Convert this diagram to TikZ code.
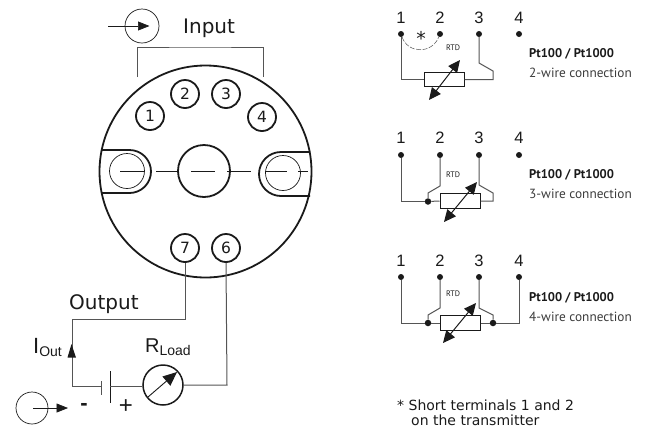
\documentclass[tikz,border=0pt]{standalone}
\usepackage{fontspec}
\setmainfont{Liberation Sans}
\newfontfamily\tah{DejaVu Sans}
\newfontfamily\din{PT Sans}
\usetikzlibrary{arrows.meta,calc}
\definecolor{ink}{HTML}{1A1A1A}
\definecolor{wiregray}{HTML}{555555}
\tikzset{
  x=1pt,y=-1pt,
  thick line/.style={draw=ink,line width=1.8pt},
  wire/.style={draw=wiregray,line width=1pt},
  thin line/.style={draw=ink,line width=0.7pt},
  termc/.style={circle,draw=ink,line width=1.8pt,minimum size=28pt,inner sep=0pt,font=\tah\fontsize{15.5}{15.5}\selectfont,text=ink},
  dotn/.style={circle,fill=ink,minimum size=6pt,inner sep=0pt},
  jdot/.style={circle,fill=ink,minimum size=6.5pt,inner sep=0pt},
  num/.style={font=\fontsize{16.5}{16.5}\selectfont,text=ink,inner sep=0pt},
  rtd/.style={font=\din\fontsize{8}{8}\selectfont,text=ink,inner sep=0pt},
  ptb/.style={font=\din\bfseries\fontsize{12.6}{13}\selectfont,text=ink,anchor=west,inner sep=0pt},
  ptn/.style={font=\din\fontsize{13.3}{13}\selectfont,text=ink!85,anchor=west,inner sep=0pt},
  res/.style={draw=ink,line width=1pt,fill=white,minimum width=40pt,minimum height=14.5pt,inner sep=0pt},
  dbl/.style={draw=ink,line width=1pt,{Triangle[length=12pt,width=11pt]}-{Triangle[length=12pt,width=11pt]},shorten >=0pt,shorten <=0pt},
  big/.style={font=\tah\fontsize{20}{20}\selectfont,text=ink,inner sep=0pt},
  sym/.style={circle,draw=ink,line width=0.7pt,inner sep=0pt},
  arr/.style={draw=ink,line width=0.7pt,-{Triangle[length=11.5pt,width=9pt]}},
}
\begin{document}
\begin{tikzpicture}
\useasboundingbox (0,0) rectangle (645,432);
% body
\node[circle,thick line,minimum size=212pt,inner sep=0pt] (body) at (205.5,171.5) {};
\node[circle,thick line,minimum size=52pt,inner sep=0pt] (hub) at (204,171) {};
% slots
\draw[thick line] (101,150) -- (129.5,150) arc[start angle=-90,end angle=90,radius=21.5] -- (101,193);
\draw[thick line] (310,152) -- (281,152) arc[start angle=-90,end angle=-270,radius=22] -- (310,196);
\node[circle,thin line,minimum size=35pt,inner sep=0pt] (sl) at (127,171) {};
\node[circle,thin line,minimum size=35pt,inner sep=0pt] (sr) at (283,173) {};
\draw[thin line] (120,171)--(144,171) (156,171)--(178,171) (191,171)--(215,171) (227,171)--(251,171) (265,171)--(287,171) (298,171)--(308,171);
% terminals
\node[termc] (t1) at (150,116) {1};
\node[termc] (t2) at (185,94) {2};
\node[termc] (t3) at (226,94) {3};
\node[termc] (t4) at (262,117) {4};
\node[termc] (t7) at (185,248) {7};
\node[termc] (t6) at (226,248) {6};
% input
\coordinate (ia) at (137,77); \coordinate (ib) at (263,77);
\draw[wire,line width=0.8pt] (ia) |- (200,47) -| (ib);
\node[big,anchor=base west] (inp) at (183,33) {Input};
\node[sym,minimum size=34pt] (inc) at (142,26) {};
\coordinate (ina) at (108,26); \coordinate (inb) at (149.5,26);
\draw[arr] (ina) -- (inb);
% output
\node[big,anchor=base west] (outl) at (69,309) {Output};
\node[sym,line width=1.5pt,minimum size=40pt] (meter) at (163,385) {};
\coordinate (p1) at (101,386); \coordinate (p2) at (110,386);
\draw[wire] (t7.south) -- (185,319) -- (72,319) -- (72,386) -- (p1);
\draw[wire] (p1 |- 0,381) -- (p1 |- 0,395);
\draw[draw=ink,line width=1pt] (p2 |- 0,371) -- (p2 |- 0,403);
\draw[wire] (p2) -- (meter.west |- p2);
\draw[wire] (meter.east) -- (227,385) -- (t6.south);
\fill[ink] (71.5,344) -- (76,357.5) -- (67.5,357.5) -- cycle;
\node[inner sep=0pt,anchor=base west,font=\fontsize{22}{22}\selectfont,text=ink] (iout) at (33,353) {I\raisebox{-3pt}{\fontsize{14}{14}\selectfont Out}};
\node[inner sep=0pt,anchor=base west,font=\fontsize{20}{20}\selectfont,text=ink] (rload) at (145,352) {R\raisebox{-3pt}{\fontsize{14}{14}\selectfont Load}};
\coordinate (ma) at (148,397); \coordinate (mb) at (177,372);
\draw[draw=ink,line width=0.9pt,-{Triangle[length=14pt,width=12pt]}] (ma) -- (mb);
\node[inner sep=0pt,font=\bfseries\fontsize{22}{22}\selectfont,text=ink] (minus) at (84,407) {-};
\node[inner sep=0pt,font=\fontsize{24}{24}\selectfont,text=ink] (plus) at (126,407) {+};
\node[sym,minimum size=32pt] (outc) at (32,408) {};
\coordinate (oa) at (33,408); \coordinate (ob) at (68,408);
\draw[arr] (oa) -- (ob);
% ---- 2-wire
\foreach \n/\x in {1/401,2/440,3/479,4/519}{
  \node[dotn] (a\n) at (\x,34) {};
  \node[num] at (\x,17.5) {\n};
  \node[dotn] (b\n) at (\x,155) {};
  \node[num] at (\x,138) {\n};
  \node[dotn] (c\n) at (\x,277) {};
  \node[num] at (\x,261) {\n};
}
\node[res] (ra) at (444,79.5) {};
\draw[wire] (a1) |- (ra.west);
\draw[wire] (ra.east) -- (493,79.5) -- (493,71) -- (479,63) -- (a3);
\draw[draw=wiregray,line width=0.5pt,dash pattern=on 5pt off 1.5pt] (a1) .. controls (408,54) and (432,54) .. (a2);
\node[inner sep=0pt,font=\tah\fontsize{19}{19}\selectfont,text=ink] at (421,38) {*};
\node[rtd] at (453,48) {RTD};
\coordinate (a5) at (429,100); \coordinate (a6) at (460,60);
\draw[dbl] (a5) -- (a6);
\node[ptb] at (529,54) {Pt100 / Pt1000};
\node[ptn] at (529,72.5) {2-wire connection};
% ---- 3-wire
\node[res] (rb) at (460,201) {};
\node[jdot] (jb) at (428,201.5) {};
\draw[wire] (b1) |- (jb);
\draw[wire] (jb) -- (rb.west);
\draw[wire] (jb) -- (428,193) -- (440,186) -- (b2);
\draw[wire] (rb.east) -- (493,201) -- (493,193) -- (479,185) -- (b3);
\node[rtd] at (453,175) {RTD};
\coordinate (b5) at (444,222); \coordinate (b6) at (477,182);
\draw[dbl] (b5) -- (b6);
\node[ptb] at (529,175) {Pt100 / Pt1000};
\node[ptn] at (529,193.5) {3-wire connection};
% ---- 4-wire
\node[res] (rc) at (460,323) {};
\node[jdot] (jc) at (428,323) {};
\node[jdot] (jd) at (493,323) {};
\draw[wire] (c1) |- (jc);
\draw[wire] (jc) -- (rc.west);
\draw[wire] (rc.east) -- (jd);
\draw[wire] (jd) -| (c4);
\draw[wire] (jc) -- (428,315) -- (440,308) -- (c2);
\draw[wire] (jd) -- (493,315) -- (479,308) -- (c3);
\node[rtd] at (453,294) {RTD};
\coordinate (c5) at (443,343); \coordinate (c6) at (476,303);
\draw[dbl] (c5) -- (c6);
\node[ptb] at (529,298) {Pt100 / Pt1000};
\node[ptn] at (529,317) {4-wire connection};
% footnote
\node[inner sep=0pt,anchor=base west,font=\tah\fontsize{14}{14}\selectfont,text=ink] (f1) at (397,410) {* Short terminals 1 and 2};
\node[inner sep=0pt,anchor=base west,font=\tah\fontsize{14}{14}\selectfont,text=ink] (f2) at (411,425) {on the transmitter};
\end{tikzpicture}
\end{document}
